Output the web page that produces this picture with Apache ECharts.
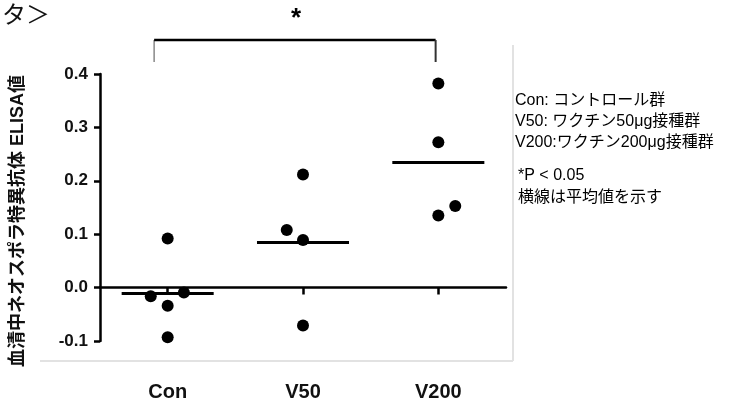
<!DOCTYPE html>
<html>
<head>
<meta charset="utf-8">
<script src="https://cdn.jsdelivr.net/npm/echarts@6/dist/echarts.min.js"></script>
<style>
  html, body { margin: 0; padding: 0; background: #fff; }
  #chart { width: 741px; height: 407px; }
</style>
</head>
<body>
<div id="chart"></div>
<script>
// data
const groups = ['Con', 'V50', 'V200'];
const conVals = [0.092, -0.016, -0.009, -0.034, -0.093];
const conJitter = [0, -0.125, 0.12, 0, 0];
const v50Vals = [0.212, 0.108, 0.089, -0.071];
const v50Jitter = [0, -0.12, 0, 0];
const v200Vals = [0.382, 0.272, 0.153, 0.135];
const v200Jitter = [0, 0, 0.125, 0];
const means = [-0.011, 0.085, 0.235];
const legendLines = ['Con: コントロール群', 'V50: ワクチン50μg接種群', 'V200:ワクチン200μg接種群'];
const noteLines = ['*P < 0.05', '横線は平均値を示す'];
// significance bracket Con vs V200 (data coords)
const bracketX = [-0.1, 1.98];
const bracketY = [0.4225, 0.4637];
const starPos = [0.948, 0.51];

const font = '"Liberation Sans", Arial, "Noto Sans CJK JP", sans-serif';
const halfW = 0.34;

function pts(vals, jit, gi) {
  return vals.map((v, i) => [gi + jit[i], v]);
}

function groupSeries(name, vals, jit, gi) {
  return {
    name: name,
    type: 'scatter',
    symbol: 'circle',
    symbolSize: 12,
    itemStyle: { color: '#000', opacity: 1 },
    data: pts(vals, jit, gi),
    markLine: {
      silent: true,
      symbol: 'none',
      label: { show: false },
      lineStyle: { color: '#000', width: 3, type: 'solid' },
      data: [[{ coord: [gi - halfW, means[gi]] }, { coord: [gi + halfW, means[gi]] }]]
    }
  };
}

const chart = echarts.init(document.getElementById('chart'));

const option = {
  animation: false,
  backgroundColor: '#fff',
  grid: { left: 100, top: 74, width: 406, height: 267 },
  xAxis: [
    {
      type: 'value',
      min: -0.5,
      max: 2.5,
      axisLine: { onZero: true, lineStyle: { color: '#000', width: 2.5 } },
      axisTick: { show: true, customValues: [0, 1, 2], length: 7, lineStyle: { color: '#000', width: 2.5 } },
      axisLabel: { show: false },
      splitLine: { show: false }
    },
    {
      type: 'category',
      position: 'bottom',
      data: groups,
      axisLine: { show: false, onZero: false },
      axisTick: { show: false },
      axisLabel: { margin: 41, fontSize: 20, fontWeight: 'bold', color: '#111', fontFamily: font },
      splitLine: { show: false }
    }
  ],
  yAxis: {
    type: 'value',
    min: -0.1,
    max: 0.4,
    interval: 0.1,
    axisLine: { show: true, onZero: false, lineStyle: { color: '#000', width: 2.5 } },
    axisTick: { show: true, length: 6, lineStyle: { color: '#000', width: 2.5 } },
    axisLabel: {
      margin: 12, fontSize: 17, fontWeight: 'bold', color: '#111', fontFamily: font,
      formatter: v => v.toFixed(1)
    },
    splitLine: { show: false }
  },
  series: [
    groupSeries('Con', conVals, conJitter, 0),
    groupSeries('V50', v50Vals, v50Jitter, 1),
    groupSeries('V200', v200Vals, v200Jitter, 2)
  ],
  graphic: [
    {
      type: 'text', left: 2, top: 2,
      style: { text: 'タ＞', fontSize: 24, fill: '#111', fontFamily: '"Noto Sans CJK JP", sans-serif' }
    },
    {
      type: 'text', x: 18, y: 221, rotation: Math.PI / 2,
      style: {
        text: '血清中ネオスポラ特異抗体 ELISA値', fontSize: 18, fontWeight: 'bold', fill: '#111',
        fontFamily: font, align: 'center', verticalAlign: 'middle'
      }
    },
    {
      type: 'text', left: 515, top: 90,
      style: { text: legendLines.join('\n'), fontSize: 16, lineHeight: 21, fill: '#000', fontFamily: font }
    },
    {
      type: 'text', left: 518, top: 165,
      style: { text: noteLines.join('\n'), fontSize: 16, lineHeight: 22, fill: '#000', fontFamily: font }
    },
    {
      type: 'line', shape: { x1: 40, y1: 361, x2: 513, y2: 361 },
      style: { stroke: '#e2e2e2', lineWidth: 2 }
    },
    {
      type: 'line', shape: { x1: 513, y1: 45, x2: 513, y2: 361 },
      style: { stroke: '#e2e2e2', lineWidth: 2 }
    }
  ]
};

chart.setOption(option);

// bracket + star placed through the axes
const pL0 = chart.convertToPixel({ gridIndex: 0 }, [bracketX[0], bracketY[0]]);
const pL1 = chart.convertToPixel({ gridIndex: 0 }, [bracketX[0], bracketY[1]]);
const pR1 = chart.convertToPixel({ gridIndex: 0 }, [bracketX[1], bracketY[1]]);
const pR0 = chart.convertToPixel({ gridIndex: 0 }, [bracketX[1], bracketY[0]]);
const pS = chart.convertToPixel({ gridIndex: 0 }, starPos);

chart.setOption({
  graphic: option.graphic.concat([
    { type: 'line', shape: { x1: pL0[0], y1: pL0[1], x2: pL1[0], y2: pL1[1] }, style: { stroke: '#888', lineWidth: 1.5 } },
    { type: 'line', shape: { x1: pL1[0], y1: pL1[1], x2: pR1[0], y2: pR1[1] }, style: { stroke: '#000', lineWidth: 2.5 } },
    { type: 'line', shape: { x1: pR1[0], y1: pR1[1], x2: pR0[0], y2: pR0[1] }, style: { stroke: '#333', lineWidth: 2 } },
    {
      type: 'text', x: pS[0], y: pS[1] + 4,
      style: { text: '*', fontSize: 26, fontWeight: 'bold', fill: '#000', fontFamily: font, align: 'center', verticalAlign: 'middle' }
    }
  ])
});
</script>
</body>
</html>
